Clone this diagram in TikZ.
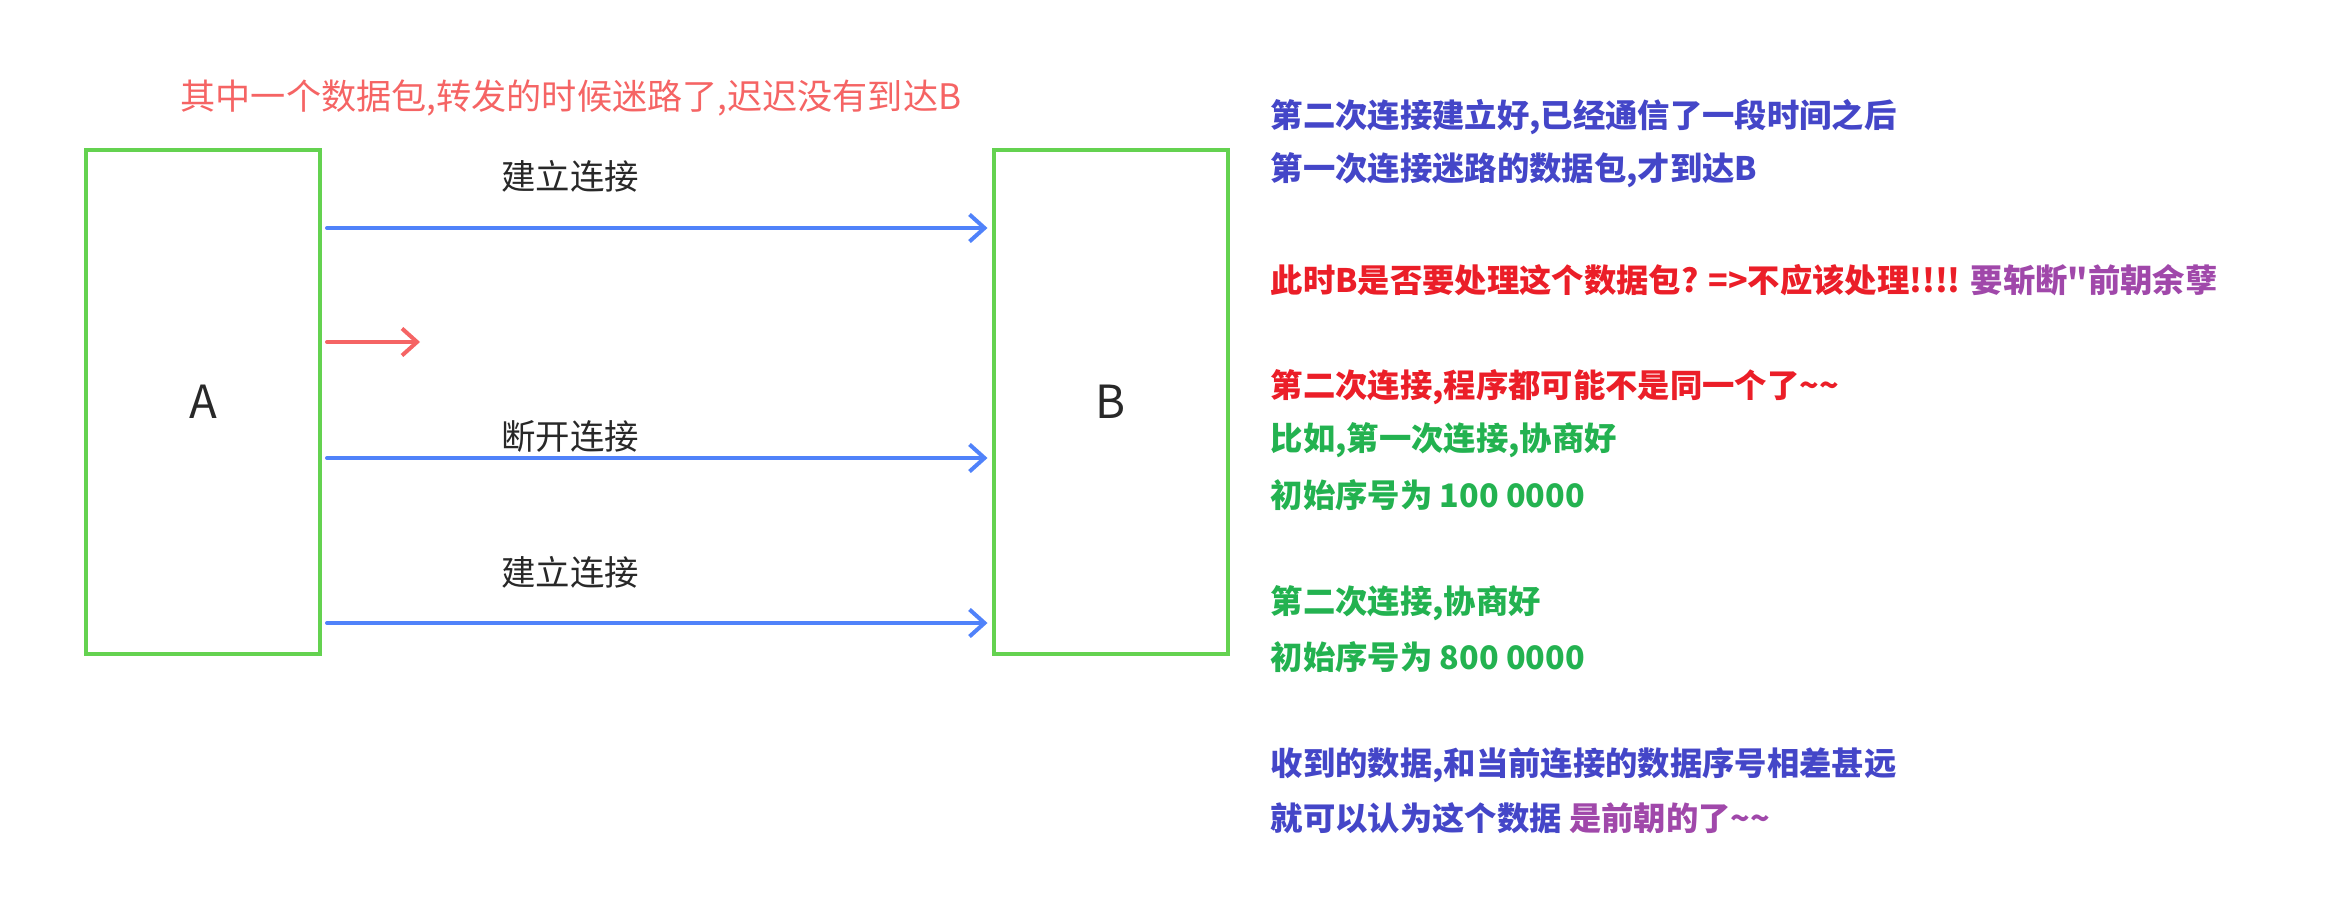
\documentclass[tikz,border=0pt]{standalone}
\usepackage{fontspec}
\setmainfont{Noto Sans CJK SC}[Ligatures=TeXOff]
\usetikzlibrary{arrows.meta}
\definecolor{boxgreen}{RGB}{100,210,80}
\definecolor{linkblue}{RGB}{80,130,250}
\definecolor{lostred}{RGB}{245,100,100}
\definecolor{labelgray}{RGB}{40,40,40}
\definecolor{noteblue}{RGB}{68,70,200}
\definecolor{notered}{RGB}{235,30,40}
\definecolor{notepurple}{RGB}{160,72,170}
\definecolor{notegreen}{RGB}{35,178,80}
\tikzset{
  peer/.style={draw=boxgreen, line width=0.04cm, minimum width=2.34cm, minimum height=5.04cm, inner sep=0pt, text=labelgray, font=\fontsize{13}{15}\selectfont},
  link/.style={-{Straight Barb[length=1.5mm,width=2.7mm]}, line width=0.04cm, draw=linkblue, line cap=round},
  lost/.style={-{Straight Barb[length=1.5mm,width=2.7mm]}, line width=0.04cm, draw=lostred, line cap=round},
  msg/.style={text=labelgray, inner sep=0pt, font=\fontsize{9.8}{12}\selectfont},
  note/.style={anchor=west, inner sep=0pt, font=\bfseries\fontsize{9.2}{11}\selectfont}
}

\begin{document}
\begin{tikzpicture}[x=1cm,y=1cm]
\useasboundingbox (0,0) rectangle (23.25,9.03);
\node[peer] (A) at (2.03,5.01) {A};
\node[peer] (B) at (11.105,5.01) {B};
\node[msg, text=lostred, font=\fontsize{10}{12}\selectfont] (strayinfo) at (5.71,8.055) {其中一个数据包,转发的时候迷路了,迟迟没有到达B};
\node[msg] (open1) at (5.70,7.27) {建立连接};
\node[msg] (close) at (5.70,4.67) {断开连接};
\node[msg] (open2) at (5.70,3.31) {建立连接};
\coordinate (lostend) at ([xshift=0.98cm,yshift=0.6cm]A.east);

\draw[link] ([xshift=0.05cm,yshift=1.74cm]A.east) -- ([xshift=-0.04cm,yshift=1.74cm]B.west);
\draw[lost] ([xshift=0.05cm,yshift=0.6cm]A.east) -- (lostend);
\draw[link] ([xshift=0.05cm,yshift=-0.56cm]A.east) -- ([xshift=-0.04cm,yshift=-0.56cm]B.west);
\draw[link] ([xshift=0.05cm,yshift=-2.21cm]A.east) -- ([xshift=-0.04cm,yshift=-2.21cm]B.west);

\node[note, text=noteblue] (r1) at (12.70,7.86) {第二次连接建立好,已经通信了一段时间之后};
\node[note, text=noteblue] (r2) at (12.70,7.33) {第一次连接迷路的数据包,才到达B};
\node[note, text=notered] (r3) at (12.70,6.23) {此时B是否要处理这个数据包? =>不应该处理!!!! \textcolor{notepurple}{要斩断"前朝余孽}};
\node[note, text=notered] (r4) at (12.70,5.16) {第二次连接,程序都可能不是同一个了\textasciitilde\textasciitilde};
\node[note, text=notegreen] (r5) at (12.70,4.63) {比如,第一次连接,协商好};
\node[note, text=notegreen] (r6) at (12.70,4.08) {初始序号为 100 0000};
\node[note, text=notegreen] (r7) at (12.70,3.00) {第二次连接,协商好};
\node[note, text=notegreen] (r8) at (12.70,2.46) {初始序号为 800 0000};
\node[note, text=noteblue] (r9) at (12.70,1.38) {收到的数据,和当前连接的数据序号相差甚远};
\node[note, text=noteblue] (r10) at (12.70,0.85) {就可以认为这个数据 \textcolor{notepurple}{是前朝的了\textasciitilde\textasciitilde}};
\end{tikzpicture}
\end{document}
